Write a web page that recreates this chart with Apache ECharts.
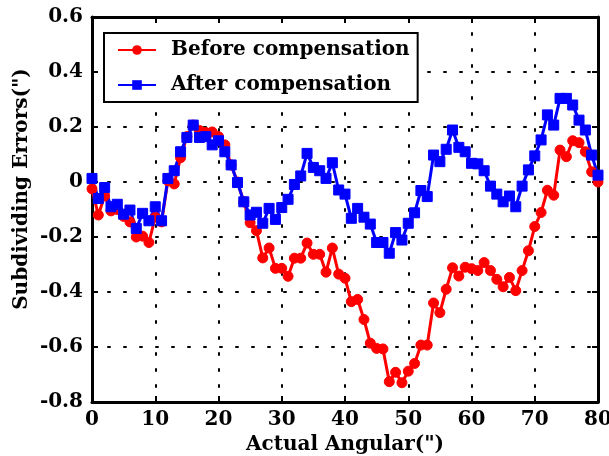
<!DOCTYPE html>
<html>
<head>
<meta charset="utf-8">
<script src="https://cdn.jsdelivr.net/npm/echarts@6/dist/echarts.min.js"></script>
<style>html,body{margin:0;padding:0;background:#fff}#c{width:609px;height:456px}</style>
</head>
<body>
<div id="c"></div>
<script>
const xValues = Array.from({length: 81}, (_, i) => i);
const beforeComp = [
  -0.025, -0.12, -0.05, -0.105, -0.10, -0.125, -0.145, -0.20, -0.197, -0.22,
  -0.128, -0.145, 0.005, -0.007, 0.088, 0.165, 0.207, 0.187, 0.18, 0.182,
  0.165, 0.135, 0.062, 0.0, -0.072, -0.148, -0.177, -0.276, -0.24, -0.314,
  -0.314, -0.343, -0.277, -0.277, -0.222, -0.263, -0.263, -0.328, -0.24, -0.335,
  -0.35, -0.435, -0.427, -0.5, -0.586, -0.605, -0.607, -0.726, -0.692, -0.73,
  -0.688, -0.66, -0.593, -0.593, -0.44, -0.475, -0.39, -0.312, -0.342, -0.31,
  -0.315, -0.322, -0.293, -0.322, -0.354, -0.381, -0.347, -0.395, -0.322, -0.25,
  -0.162, -0.111, -0.03, -0.048, 0.116, 0.092, 0.15, 0.143, 0.11, 0.037,
  0.0
];
const afterComp = [
  0.013, -0.06, -0.02, -0.09, -0.081, -0.117, -0.102, -0.169, -0.114, -0.141,
  -0.09, -0.141, 0.013, 0.041, 0.11, 0.162, 0.207, 0.162, 0.165, 0.135,
  0.15, 0.11, 0.062, -0.002, -0.072, -0.12, -0.11, -0.15, -0.096, -0.136,
  -0.093, -0.063, -0.009, 0.022, 0.104, 0.053, 0.041, 0.013, 0.07, -0.029,
  -0.044, -0.132, -0.096, -0.128, -0.153, -0.22, -0.22, -0.259, -0.184, -0.211,
  -0.15, -0.112, -0.031, -0.053, 0.098, 0.074, 0.119, 0.189, 0.126, 0.11,
  0.068, 0.066, 0.041, -0.015, -0.044, -0.072, -0.051, -0.09, -0.015, 0.044,
  0.095, 0.153, 0.244, 0.207, 0.304, 0.304, 0.28, 0.225, 0.189, 0.098,
  0.025
];
const seriesNames = ['Before compensation', 'After compensation'];
const xTitle = 'Actual Angular(")';
const yTitle = 'Subdividing Errors(")';

const FONT = 'DejaVu Serif';
const chart = echarts.init(document.getElementById('c'), null, {renderer: 'canvas'});
const gridDots = {show: true, lineStyle: {color: '#000', width: 2, type: [2, 14], cap: 'round'}};
const axLine = {show: true, onZero: false, lineStyle: {color: '#000', width: 3}};
const tick = {show: true, inside: true, length: 6, lineStyle: {color: '#000', width: 2}};
const lbl = {fontFamily: FONT, fontWeight: 'bold', fontSize: 20, color: '#000'};
chart.setOption({
  animation: false,
  backgroundColor: '#fff',
  grid: {left: 92, right: 11, top: 17, bottom: 54, outerBoundsMode: 'none', containLabel: false},
  graphic: [{
    type: 'text', x: 22, y: 189, rotation: Math.PI / 2,
    style: {text: yTitle, fontFamily: FONT, fontWeight: 'bold', fontSize: 20, fill: '#000',
      align: 'center', verticalAlign: 'middle'}
  }],
  legend: {
    orient: 'vertical', left: 104, top: 33,
    itemWidth: 38, itemHeight: 12, itemGap: 15,
    padding: [7, 8, 7, 13],
    borderColor: '#000', borderWidth: 2, backgroundColor: '#fff',
    textStyle: {fontFamily: FONT, fontWeight: 'bold', fontSize: 20, color: '#000', padding: [0, 0, 0, 10]},
    data: seriesNames
  },
  xAxis: [{
    type: 'value', min: 0, max: 80, interval: 10, position: 'bottom',
    axisLine: axLine, axisTick: tick, splitLine: gridDots,
    axisLabel: Object.assign({margin: 8}, lbl),
    name: xTitle, nameLocation: 'middle', nameGap: 28,
    nameTextStyle: {fontFamily: FONT, fontWeight: 'bold', fontSize: 20, color: '#000'}
  }, {
    type: 'value', min: 0, max: 80, interval: 10, position: 'top',
    axisLine: axLine, axisTick: tick, splitLine: {show: false}, axisLabel: {show: false}
  }],
  yAxis: [{
    type: 'value', min: -0.8, max: 0.6, interval: 0.2, position: 'left',
    axisLine: axLine, axisTick: tick, splitLine: gridDots,
    axisLabel: Object.assign({margin: 9}, lbl)
  }, {
    type: 'value', min: -0.8, max: 0.6, interval: 0.2, position: 'right',
    axisLine: axLine, axisTick: tick, splitLine: {show: false}, axisLabel: {show: false}
  }],
  series: [{
    name: seriesNames[0], type: 'line',
    data: xValues.map((x, i) => [x, beforeComp[i]]),
    symbol: 'circle', symbolSize: 10,
    lineStyle: {color: '#ff0000', width: 3},
    itemStyle: {color: '#ff0000', borderColor: '#ff0000'}
  }, {
    name: seriesNames[1], type: 'line',
    data: xValues.map((x, i) => [x, afterComp[i]]),
    symbol: 'rect', symbolSize: 10,
    lineStyle: {color: '#0000ff', width: 3},
    itemStyle: {color: '#0000ff', borderColor: '#0000ff'}
  }]
});
</script>
</body>
</html>
